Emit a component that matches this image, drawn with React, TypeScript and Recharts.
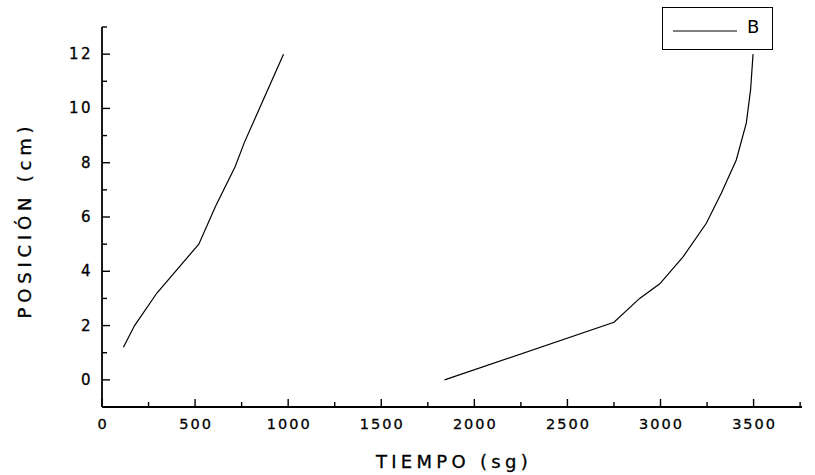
import React from "react";
import { LineChart, Line, XAxis, YAxis, Legend, Label } from "recharts";

// Tiempo (sg) / Posición (cm) – first segment
const tiempoA = [115, 175, 295, 520, 610, 715, 765, 975];
const posicionA = [1.2, 2.0, 3.2, 5.0, 6.4, 7.85, 8.75, 12.0];

// second segment
const tiempoB = [1840, 2750, 2888, 2996, 3121, 3246, 3327, 3407, 3461, 3484, 3497];
const posicionB = [0.0, 2.12, 3.0, 3.54, 4.53, 5.77, 6.88, 8.1, 9.47, 10.7, 12.0];

const xTicks = [0, 250, 500, 750, 1000, 1250, 1500, 1750, 2000, 2250, 2500, 2750, 3000, 3250, 3500, 3750];
const yTicks = [-1, 0, 1, 2, 3, 4, 5, 6, 7, 8, 9, 10, 11, 12, 13];

const seriesName = "B";
const xTitle = "TIEMPO (sg)";
const yTitle = "POSICIÓN (cm)";

const dataA = tiempoA.map((t, i) => ({ t, p: posicionA[i] }));
const dataB = tiempoB.map((t, i) => ({ t, p: posicionB[i] }));

const FONT = "'DejaVu Sans', Arial, sans-serif";

const XTick = (props: any) => {
  const { x, y, payload } = props;
  const v = payload.value;
  const major = v % 500 === 0;
  return (
    <g>
      <line x1={x} y1={y} x2={x} y2={y - (major ? 8 : 5)} stroke="#000" strokeWidth={1.4} />
      {major && (
        <text x={x + 1} y={y + 22} textAnchor="middle" fontSize={14.5} fontFamily={FONT} letterSpacing={2}
          fill="#000" stroke="#000" strokeWidth={0.3}>
          {v}
        </text>
      )}
    </g>
  );
};

const YTick = (props: any) => {
  const { x, y, payload } = props;
  const v = payload.value;
  const major = v % 2 === 0 && v >= 0 && v <= 12;
  return (
    <g>
      <line x1={x} y1={y} x2={x + (major ? 8 : 5)} y2={y} stroke="#000" strokeWidth={1.4} />
      {major && (
        <text x={x - 9} y={y + 5} textAnchor="end" fontSize={15} fontFamily={FONT} letterSpacing={2.5}
          fill="#000" stroke="#000" strokeWidth={0.3}>
          {v}
        </text>
      )}
    </g>
  );
};

const LegendBox = (props: any) => {
  const items = (props.payload || []).filter((p: any) => p.value === seriesName);
  return (
    <div
      style={{
        border: "1.5px solid #000",
        width: 111,
        height: 43,
        boxSizing: "border-box",
        background: "#fff",
        position: "relative",
        fontFamily: FONT,
      }}
    >
      {items.map((it: any) => (
        <div key={it.value}>
          <svg width={70} height={10} style={{ position: "absolute", left: 10, top: 18 }}>
            <line x1={0} y1={5} x2={64} y2={5} stroke="#000" strokeWidth={1} />
          </svg>
          <span style={{ position: "absolute", left: 84, top: 9, fontSize: 18, lineHeight: "20px", color: "#000" }}>
            {it.value}
          </span>
        </div>
      ))}
    </div>
  );
};

export default function App() {
  return (
    <div style={{ position: "absolute", left: 0, top: 0, background: "#fff" }}>
      <LineChart width={815} height={475} margin={{ top: 27, right: 13, bottom: 0, left: 0 }}>
        <XAxis
          type="number"
          dataKey="t"
          domain={[0, 3760]}
          ticks={xTicks}
          interval={0}
          height={68}
          tickSize={0}
          tickMargin={0}
          tickLine={false}
          tick={<XTick />}
          axisLine={{ stroke: "#000", strokeWidth: 1.8 }}
          allowDataOverflow
        >
          <Label
            content={(p: any) => {
              const vb = p.viewBox || {};
              const cx = vb.x + vb.width / 2;
              return (
                <text x={cx + 2} y={468} textAnchor="middle" fontSize={18} fontFamily={FONT} letterSpacing={4.3}
                  fill="#000" stroke="#000" strokeWidth={0.3}>
                  {xTitle}
                </text>
              );
            }}
          />
        </XAxis>
        <YAxis
          type="number"
          domain={[-1, 13]}
          ticks={yTicks}
          interval={0}
          width={102}
          tickSize={0}
          tickMargin={0}
          tickLine={false}
          tick={<YTick />}
          axisLine={{ stroke: "#000", strokeWidth: 1.8 }}
          allowDataOverflow
        >
          <Label
            content={(p: any) => {
              const vb = p.viewBox || {};
              const cy = vb.y + vb.height / 2 + 3;
              const cx = 31;
              return (
                <text
                  x={cx}
                  y={cy}
                  transform={`rotate(-90 ${cx} ${cy})`}
                  textAnchor="middle"
                  fontSize={18}
                  fontFamily={FONT}
                  letterSpacing={4.8}
                  fill="#000"
                  stroke="#000"
                  strokeWidth={0.3}
                >
                  {yTitle}
                </text>
              );
            }}
          />
        </YAxis>
        <Legend
          layout="vertical"
          align="center"
          verticalAlign="middle"
          wrapperStyle={{ left: 662, top: 7, width: 111, height: 43 }}
          content={<LegendBox />}
        />
        <Line
          data={dataA}
          dataKey="p"
          name={seriesName}
          type="linear"
          stroke="#000"
          strokeWidth={1.2}
          dot={false}
          activeDot={false}
          isAnimationActive={false}
        />
        <Line
          data={dataB}
          dataKey="p"
          name={seriesName + " "}
          legendType="none"
          type="linear"
          stroke="#000"
          strokeWidth={1.2}
          dot={false}
          activeDot={false}
          isAnimationActive={false}
        />
      </LineChart>
    </div>
  );
}
